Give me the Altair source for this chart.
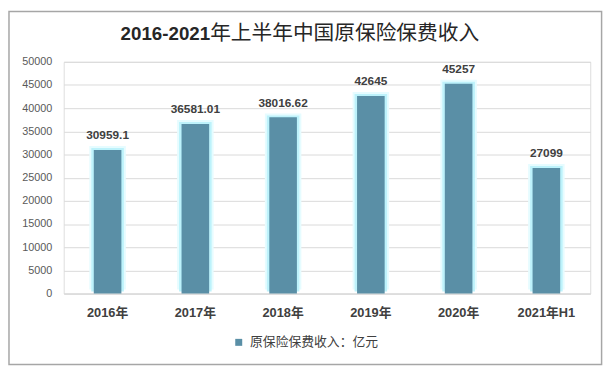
import altair as alt
import pandas as pd

categories = ["2016年", "2017年", "2018年", "2019年", "2020年", "2021年H1"]
values = [30959.1, 36581.01, 38016.62, 42645, 45257, 27099]
labels = ["30959.1", "36581.01", "38016.62", "42645", "45257", "27099"]
series = "原保险保费收入：亿元"
title_years = "2016-2021"
title_rest = "年上半年中国原保险保费收入"

df = pd.DataFrame({"cat": categories, "val": values, "lab": labels, "series": [series] * len(categories)})

FONT = "Liberation Sans, Noto Sans CJK SC, sans-serif"
BAR = "#5a8fa6"

x = alt.X("cat:N", sort=categories, title=None,
          axis=alt.Axis(labelAngle=0, labelFont=FONT, labelFontSize=13, labelFontWeight="bold",
                        labelColor="#404040", labelPadding=13, ticks=False,
                        domainColor="#d9d9d9", grid=False))
y = alt.Y("val:Q", title=None, scale=alt.Scale(domain=[0, 50000], nice=False),
          axis=alt.Axis(values=list(range(0, 50001, 5000)), format="d", labelFont=FONT, labelFontSize=11,
                        labelColor="#595959", labelPadding=12, ticks=False, domain=False,
                        gridColor="#d9d9d9", gridWidth=1))

base = alt.Chart(df)

glow1 = base.mark_bar(size=37, color="#e6fcff", yOffset=-4).encode(x=x, y=y)
glow2 = base.mark_bar(size=33, color="#bdf2fb", yOffset=-2).encode(x=x, y=y)
bars = base.mark_bar(size=28).encode(
    x=x, y=y,
    color=alt.Color("series:N", scale=alt.Scale(range=[BAR]),
                    legend=alt.Legend(title=None, orient="none", legendX=171, legendY=278,
                                      symbolType="square", symbolSize=50, symbolStrokeWidth=0,
                                      labelFont=FONT, labelFontSize=13, labelColor="#404040",
                                      labelOffset=5)))
text = base.mark_text(dy=-8, baseline="bottom", font=FONT, fontSize=12, fontWeight="bold",
                      color="#404040").encode(x=x, y=y, text="lab:N")

one = alt.Chart(pd.DataFrame({"a": [title_years], "b": [title_rest]}))
frame = one.mark_rect(fill=None, stroke="#a6a6a6", strokeWidth=1.5, clip=False).encode(
    x=alt.value(-55.5), x2=alt.value(545.5), y=alt.value(-51), y2=alt.value(307))
title_a = one.mark_text(font=FONT, fontSize=19, fontWeight="bold", color="#262626",
                        align="right", baseline="middle").encode(
    x=alt.value(148.5), y=alt.value(-28), text="a:N")
title_b = one.mark_text(font=FONT, fontSize=21, fontWeight="normal", color="#262626",
                        align="left", baseline="middle").encode(
    x=alt.value(148.5), y=alt.value(-28), text="b:N")

chart = alt.layer(frame, glow1, glow2, bars, text, title_a, title_b).properties(
    width=534, height=235,
    autosize=alt.AutoSizeParams(type="none"),
    padding={"left": 56.5, "top": 52, "right": 18, "bottom": 78},
).configure_view(stroke=None).configure(background="white")

chart.save("out.html", embed_options={"renderer": "svg", "actions": False})
